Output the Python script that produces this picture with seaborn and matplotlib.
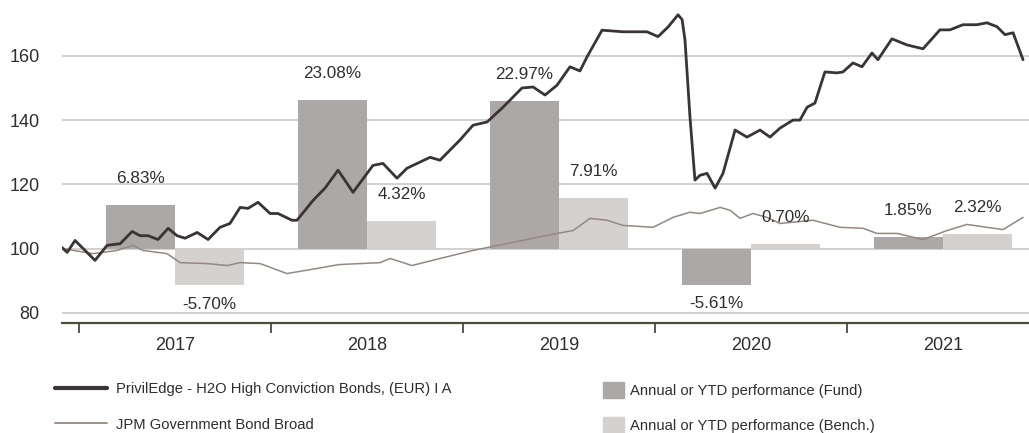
import matplotlib
matplotlib.use("Agg")
import matplotlib.pyplot as plt
import matplotlib.lines as mlines
import matplotlib.patches as mpatches
import pandas as pd
import seaborn as sns

# fund NAV (rebased to 100), x in fractional years
fund_t = [2016.911, 2016.938, 2016.979, 2017.083, 2017.146, 2017.214, 2017.276, 2017.318,
          2017.359, 2017.411, 2017.464, 2017.510, 2017.552, 2017.615, 2017.672, 2017.734,
          2017.786, 2017.839, 2017.880, 2017.932, 2017.995, 2018.036, 2018.109, 2018.135,
          2018.219, 2018.281, 2018.349, 2018.427, 2018.531, 2018.583, 2018.656, 2018.708,
          2018.828, 2018.880, 2018.984, 2019.052, 2019.125, 2019.208, 2019.307, 2019.365,
          2019.427, 2019.490, 2019.557, 2019.609, 2019.646, 2019.724, 2019.833, 2019.958,
          2020.016, 2020.068, 2020.120, 2020.141, 2020.156, 2020.182, 2020.208, 2020.234,
          2020.271, 2020.313, 2020.354, 2020.417, 2020.479, 2020.547, 2020.599, 2020.651,
          2020.719, 2020.755, 2020.792, 2020.833, 2020.885, 2020.948, 2020.979, 2021.031,
          2021.078, 2021.130, 2021.161, 2021.234, 2021.313, 2021.396, 2021.484, 2021.536,
          2021.604, 2021.677, 2021.729, 2021.781, 2021.823, 2021.865, 2021.917]
fund_v = [100.3, 98.8, 102.5, 96.3, 101.0, 101.5, 105.3, 104.0,
          104.0, 102.8, 106.3, 104.0, 103.2, 105.0, 102.8, 106.6,
          107.8, 112.8, 112.5, 114.4, 110.9, 110.9, 108.8, 108.8,
          115.0, 118.8, 124.4, 117.5, 125.9, 126.5, 121.9, 125.0,
          128.4, 127.5, 133.8, 138.4, 139.4, 144.0, 150.0, 150.3,
          147.8, 150.9, 156.6, 155.3, 159.7, 168.0, 167.5, 167.5,
          166.0, 169.0, 172.8, 171.3, 165.0, 141.0, 121.3, 122.8,
          123.4, 118.8, 123.4, 136.9, 134.7, 136.9, 134.7, 137.5,
          140.0, 140.0, 144.0, 145.3, 155.0, 154.7, 155.0, 157.8,
          156.6, 160.9, 158.8, 165.3, 163.4, 162.2, 168.1, 168.1,
          169.7, 169.7, 170.3, 169.1, 166.6, 167.2, 158.8]

# benchmark (rebased to 100)
bench_t = [2016.911, 2017.073, 2017.198, 2017.281, 2017.333, 2017.458, 2017.526, 2017.667,
           2017.771, 2017.839, 2017.943, 2018.083, 2018.240, 2018.355, 2018.568, 2018.620,
           2018.734, 2018.880, 2019.052, 2019.260, 2019.438, 2019.573, 2019.661, 2019.750,
           2019.833, 2019.990, 2020.094, 2020.182, 2020.234, 2020.339, 2020.391, 2020.443,
           2020.510, 2020.583, 2020.651, 2020.823, 2020.964, 2021.083, 2021.156, 2021.260,
           2021.396, 2021.521, 2021.625, 2021.729, 2021.813, 2021.917]
bench_v = [100.0, 98.4, 99.4, 101.0, 99.4, 98.4, 95.6, 95.3,
           94.7, 95.6, 95.3, 92.2, 93.8, 95.0, 95.6, 96.9,
           94.7, 96.9, 99.4, 101.9, 104.1, 105.6, 109.4, 108.8,
           107.2, 106.6, 109.7, 111.3, 110.9, 112.8, 111.9, 109.4,
           110.9, 109.7, 107.8, 108.8, 106.6, 106.3, 104.7, 104.7,
           102.8, 105.6, 107.5, 106.6, 105.9, 109.7]

years = [2017, 2018, 2019, 2020, 2021]
fund_perf = [6.83, 23.08, 22.97, -5.61, 1.85]
bench_perf = [-5.70, 4.32, 7.91, 0.70, 2.32]

fund_name = "PrivilEdge - H2O High Conviction Bonds, (EUR) I A"
bench_name = "JPM Government Bond Broad"
fund_bar_name = "Annual or YTD performance (Fund)"
bench_bar_name = "Annual or YTD performance (Bench.)"

c_fund_line = "#3a3434"
c_bench_line = "#938882"
c_fund_bar = "#aca8a7"
c_bench_bar = "#d5d1ce"
c_text = "#2e2e2e"

sns.set_style("white")
plt.rcParams["font.family"] = ["Liberation Sans", "DejaVu Sans"]

fig = plt.figure(figsize=(10.29, 4.33), dpi=100)
ax = fig.add_axes([62 / 1029, 110 / 433, 967 / 1029, 323 / 433])

# bars: drawn around the 100 baseline, 2 index points per 1%
bw = 0.36
centers = [y + 0.5 for y in years]
ax.bar([c - bw for c in centers], [2 * p for p in fund_perf], width=bw, bottom=100,
       align="edge", color=c_fund_bar, linewidth=0, zorder=2)
ax.bar(centers, [2 * p for p in bench_perf], width=bw, bottom=100,
       align="edge", color=c_bench_bar, linewidth=0, zorder=2)

for c, p in zip(centers, fund_perf):
    yy = 100 + 2 * p + 8.2 if p >= 0 else 100 + 2 * p - 6
    ax.text(c - bw / 2, yy, "%.2f%%" % p, ha="center", va="center", fontsize=12.3, color=c_text, zorder=5)
for c, p in zip(centers, bench_perf):
    yy = 100 + 2 * p + 8.2 if p >= 0 else 100 + 2 * p - 6
    ax.text(c + bw / 2, yy, "%.2f%%" % p, ha="center", va="center", fontsize=12.3, color=c_text, zorder=5)

df_f = pd.DataFrame({"t": fund_t, "v": fund_v})
df_b = pd.DataFrame({"t": bench_t, "v": bench_v})
sns.lineplot(data=df_b, x="t", y="v", color=c_bench_line, linewidth=1.1, ax=ax, zorder=3)
sns.lineplot(data=df_f, x="t", y="v", color=c_fund_line, linewidth=2.0, ax=ax, zorder=4)

ax.set_xlim(2016.911, 2021.948)
ax.set_ylim(76.8, 177.4)
ax.set_xlabel("")
ax.set_ylabel("")

ax.set_yticks([80, 100, 120, 140, 160])
ax.yaxis.grid(True, color="#cacaca", linewidth=1.2, zorder=0)
ax.set_axisbelow(True)
ax.tick_params(axis="y", left=False, length=0, pad=16, labelsize=13, labelcolor=c_text)

ax.set_xticks(years)
ax.set_xticklabels([])
ax.set_xticks(centers, minor=True)
ax.set_xticklabels([str(y) for y in years], minor=True)
ax.tick_params(axis="x", which="major", bottom=True, length=7, width=1.3, color="#4c4c3c",
               direction="out")
ax.tick_params(axis="x", which="minor", bottom=True, length=0, pad=10, labelsize=13,
               labelcolor=c_text)

for s in ["top", "right", "left"]:
    ax.spines[s].set_visible(False)
ax.spines["bottom"].set_color("#4c4c3c")
ax.spines["bottom"].set_linewidth(1.6)

h1 = mlines.Line2D([], [], color=c_fund_line, linewidth=3)
h2 = mlines.Line2D([], [], color=c_bench_line, linewidth=1.3)
leg1 = fig.legend([h1, h2], [fund_name, bench_name], loc="upper left",
                  bbox_to_anchor=(42 / 1029, 64 / 433), frameon=False, fontsize=10.6,
                  handlelength=3.5, handletextpad=0.6, labelspacing=1.45, labelcolor=c_text)
h3 = mpatches.Patch(color=c_fund_bar)
h4 = mpatches.Patch(color=c_bench_bar)
leg2 = fig.legend([h3, h4], [fund_bar_name, bench_bar_name], loc="upper left",
                  bbox_to_anchor=(590 / 1029, 64 / 433), frameon=False, fontsize=10.6,
                  handlelength=1.4, handleheight=1.3, handletextpad=0.4, labelspacing=1.25,
                  labelcolor=c_text)

fig.savefig("out.png", dpi=100)
